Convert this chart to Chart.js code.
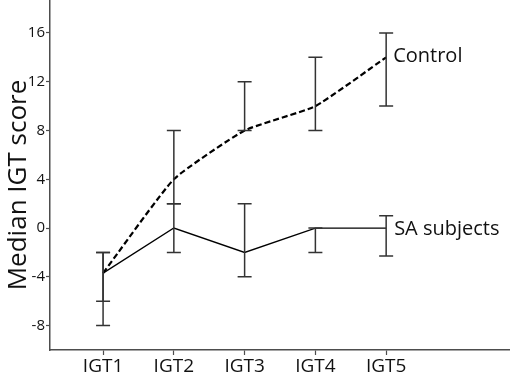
<!DOCTYPE html>
<html>
<head>
<meta charset="utf-8">
<script src="https://cdn.jsdelivr.net/npm/chart.js@4/dist/chart.umd.min.js"></script>
<style>
  html, body { margin: 0; padding: 0; background: #fff; }
  #wrap { width: 510px; height: 381px; }
</style>
</head>
<body>
<div id="wrap"><canvas id="chart"></canvas></div>
<script>
// data
const sessions = ['IGT1', 'IGT2', 'IGT3', 'IGT4', 'IGT5'];
const controlMedian = [-3.7, 4, 8, 10, 14];
const controlLow = [-6, 2, 8, 8, 10];
const controlHigh = [-2, 8, 12, 14, 16];
const saMedian = [-3.7, 0, -2, 0, 0];
const saLow = [-8, -2, -4, -2, -2.3];
const saHigh = [-2, 2, 2, 0, 1];
const yTicks = [-8, -4, 0, 4, 8, 12, 16];

const axisColor = '#4d4d4d';
const barColor = '#333333';

const toPoints = vals => vals.map((v, i) => ({ x: i + 1, y: v }));

// error bars + end labels + y title
const extras = {
    id: 'extras',
    afterDatasetsDraw(chart) {
        const ctx = chart.ctx;
        const xs = chart.scales.x, ys = chart.scales.y;
        const drawBars = (low, high) => {
            low.forEach((lo, i) => {
                const x = xs.getPixelForValue(i + 1);
                const y1 = ys.getPixelForValue(lo);
                const y2 = ys.getPixelForValue(high[i]);
                ctx.beginPath();
                ctx.moveTo(x, y1); ctx.lineTo(x, y2);
                ctx.moveTo(x - 7, y1); ctx.lineTo(x + 7, y1);
                ctx.moveTo(x - 7, y2); ctx.lineTo(x + 7, y2);
                ctx.stroke();
            });
        };
        ctx.save();
        ctx.strokeStyle = barColor;
        ctx.lineWidth = 1.5;
        drawBars(controlLow, controlHigh);
        drawBars(saLow, saHigh);

        // series names next to the last point
        ctx.fillStyle = '#111';
        ctx.font = '20px "Open Sans"';
        ctx.textBaseline = 'middle';
        const last = sessions.length;
        ctx.fillText('Control', xs.getPixelForValue(last) + 7, ys.getPixelForValue(controlMedian[last - 1]) - 1);
        ctx.fillText('SA subjects', xs.getPixelForValue(last) + 8, ys.getPixelForValue(saMedian[last - 1]) + 1);

        // y axis title
        ctx.translate(19, 185);
        ctx.rotate(-Math.PI / 2);
        ctx.textAlign = 'center';
        ctx.font = '26px "Open Sans"';
        ctx.fillText('Median IGT score', 0, 0);
        ctx.restore();
    }
};

new Chart(document.getElementById('chart'), {
    type: 'line',
    data: {
        datasets: [
            {
                label: 'Control',
                data: toPoints(controlMedian),
                borderColor: '#000',
                borderWidth: 2.2,
                borderDash: [6, 3],
                tension: 0.15,
                pointRadius: 0
            },
            {
                label: 'SA subjects',
                data: toPoints(saMedian),
                borderColor: '#000',
                borderWidth: 1.3,
                tension: 0,
                pointRadius: 0
            }
        ]
    },
    options: {
        responsive: true,
        maintainAspectRatio: false,
        animation: false,
        layout: { padding: 0 },
        plugins: {
            legend: { display: false },
            tooltip: { enabled: false }
        },
        scales: {
            x: {
                type: 'linear',
                min: 0.25,
                max: 6.75,
                afterFit(scale) {
                    scale.height = 31;
                    scale.paddingLeft = 0;
                    scale.paddingRight = 0;
                },
                afterBuildTicks(scale) { scale.ticks = sessions.map((s, i) => ({ value: i + 1 })); },
                ticks: {
                    callback: v => sessions[v - 1] || '',
                    color: '#111',
                    font: { family: 'Open Sans', size: 19 },
                    padding: 0,
                    maxRotation: 0
                },
                grid: { drawOnChartArea: false, color: axisColor, tickLength: 5, tickWidth: 1.2 },
                border: { color: axisColor, width: 1.5 }
            },
            y: {
                min: -10,
                max: 18.7,
                afterFit(scale) {
                    scale.width = 50;
                    scale.paddingTop = 0;
                    scale.paddingBottom = 0;
                },
                afterBuildTicks(scale) { scale.ticks = yTicks.map(v => ({ value: v })); },
                ticks: {
                    color: '#111',
                    font: { family: 'Open Sans', size: 15 },
                    padding: 1
                },
                grid: { drawOnChartArea: false, color: axisColor, tickLength: 4, tickWidth: 1.2 },
                border: { color: axisColor, width: 1.5 }
            }
        }
    },
    plugins: [extras]
});
</script>
</body>
</html>
